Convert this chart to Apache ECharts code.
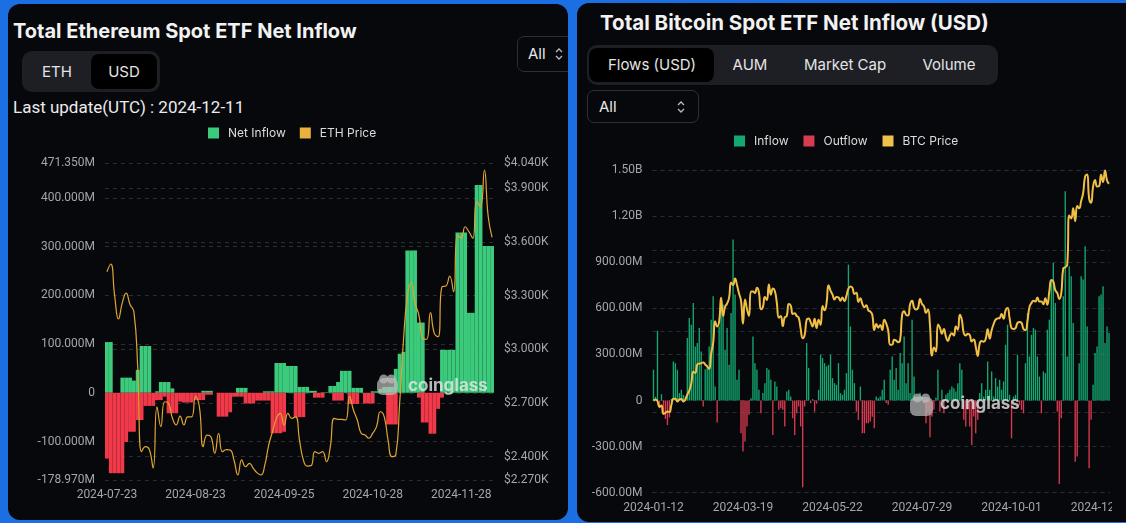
<!DOCTYPE html>
<html lang="en">
<head>
<meta charset="UTF-8">
<title>Spot ETF Net Inflow</title>
<script src="https://cdn.jsdelivr.net/npm/echarts@6/dist/echarts.min.js"></script>
<style>
  html, body {margin:0; padding:0;}
  body {width:1126px; height:523px; background:#1b6fe2; position:relative; overflow:hidden; font-family:Inter, 'Noto Sans', sans-serif; color:#f2f2f2;}
  .panel {position:absolute; background:#07080b; border-radius:12px; overflow:hidden;}
  .eth-panel {left:8px; top:4px; width:560px; height:516px;}
  .btc-panel {left:577px; top:3px; width:580px; height:519px;}
  .title {position:absolute; font-weight:700; font-size:20px; line-height:24px; white-space:nowrap;}
  .pill {position:absolute; background:#1d1f24; border-radius:10px;}
  .pill .sel {position:absolute; background:#000; border-radius:8px;}
  .pill span {position:absolute; top:0; font-size:15px; color:#e4e4e4; transform:translateX(-50%); white-space:nowrap;}
  .sel-box {position:absolute; border:1px solid #2c2f36; border-radius:7px; box-sizing:border-box; font-size:15px; color:#e8e8e8;}
  .sel-box svg {position:absolute; top:50%; margin-top:-7px;}
  .upd {position:absolute; font-family:Roboto, sans-serif; font-size:17px; line-height:20px; color:#ececec; white-space:nowrap;}
  .chart {position:absolute; top:0; height:523px;}
</style>
</head>
<body>
<div class="panel eth-panel">
  <div class="title" style="left:5px; top:15px;">Total Ethereum Spot ETF Net Inflow</div>
  <div class="pill" style="left:14px; top:47px; width:138px; height:41px;">
    <div class="sel" style="left:69px; top:3px; width:66px; height:35px;"></div>
    <span style="left:35px; line-height:41px;">ETH</span>
    <span style="left:102px; line-height:41px;">USD</span>
  </div>
  <div class="upd" style="left:5px; top:93px;">Last update(UTC) : 2024-12-11</div>
  <div class="sel-box" style="left:509px; top:32px; width:70px; height:36px; line-height:34px; padding-left:10px;">All
    <svg style="left:36px;" width="10" height="14" viewBox="0 0 10 14"><path d="M2 5 L5 2 L8 5 M2 9 L5 12 L8 9" stroke="#bbb" stroke-width="1.3" fill="none"/></svg>
  </div>
</div>
<div class="panel btc-panel">
  <div class="title" style="left:23px; top:8px; font-size:20.5px;">Total Bitcoin Spot ETF Net Inflow (USD)</div>
  <div class="pill" style="left:10px; top:42px; width:411px; height:40px;">
    <div class="sel" style="left:2px; top:3px; width:125px; height:34px;"></div>
    <span style="left:65px; line-height:40px;">Flows (USD)</span>
    <span style="left:163px; line-height:40px;">AUM</span>
    <span style="left:258px; line-height:40px;">Market Cap</span>
    <span style="left:362px; line-height:40px;">Volume</span>
  </div>
  <div class="sel-box" style="left:10px; top:87px; width:112px; height:33px; line-height:31px; padding-left:11px;">All
    <svg style="left:88px;" width="10" height="14" viewBox="0 0 10 14"><path d="M2 5 L5 2 L8 5 M2 9 L5 12 L8 9" stroke="#bbb" stroke-width="1.3" fill="none"/></svg>
  </div>
</div>
<div id="eth" class="chart" style="left:8px; width:560px;"></div>
<div id="btc" class="chart" style="left:577px; width:535px;"></div>
<script>
// ---- ETH (USD millions, daily, weekdays 2024-07-23 .. 2024-12-10)
const ethInflowPos = [104,104,0,0,31,31,31,25,47,96,
  96,96,0,3,22,22,22,9,0,0,
  0,0,0,0,0,4,4,4,0,0,
  0,0,0,0,10,10,10,0,0,0,
  0,3,3,3,61,61,61,55,55,55,
  12,12,12,4,4,0,1,1,14,14,
  22,45,45,45,10,10,10,0,0,3,
  3,8,12,12,12,49,80,84,292,292,
  292,144,144,0,0,0,0,88,88,88,
  88,329,329,329,164,164,426,426,301,301,301];
const ethInflowNeg = [-135,-165,-165,-165,-165,-101,-80,-80,-56,-56,
  -27,-27,-27,-15,-15,-8,-42,-42,-42,-18,
  -20,-20,-20,-15,-15,-15,-4,-4,0,-49,
  -49,-49,-40,-8,-8,-8,-22,-22,-22,-16,
  -16,-16,-16,-83,-83,-83,-80,0,0,-50,
  -50,-50,0,0,-10,-10,-10,0,0,-16,
  -16,-16,0,-23,-23,-23,0,-22,-22,-22,
  0,0,0,-65,-65,-65,0,0,0,0,
  0,-10,-61,-61,-84,-84,-33,-10,0,0,
  0,0,0,0,0,0,0,0,0,0,0];
const ethPrice = [3433,3476,3300,3169,3260,3313,3250,3210,2900,2428,
  2456,2440,2337,2679,2568,2707,2698,2616,2577,2627,
  2577,2623,2623,2735,2679,2456,2521,2512,2419,2531,
  2428,2440,2437,2380,2298,2382,2344,2363,2335,2310,
  2298,2354,2465,2540,2614,2642,2577,2642,2614,2623,
  2493,2382,2348,2350,2428,2419,2428,2372,2456,2614,
  2609,2609,2605,2735,2661,2605,2531,2521,2503,2530,
  2568,2651,2623,2493,2400,2410,2698,3052,3294,3372,
  3257,3191,3061,3056,3204,3089,3070,3349,3353,3409,
  3321,3638,3620,3684,3656,3620,3824,3796,4001,3740,3625];
const ethLeftTicks = [-178.97, 471.35];
const ethRightTicks = [2270, 4040];

// ---- BTC (USD millions / price in $K, US trading days 2024-01-12 .. 2024-12-10)
const btcFlow = [200,25,454,-50,41,-83,-120,-159,-110,10,
  254,243,200,48,70,37,26,406,537,493,
  635,352,374,472,319,-39,204,226,352,526,
  678,91,-143,482,667,624,330,472,232,569,
  1047,689,135,200,-213,-332,-267,-169,-93,15,
  417,243,200,70,-83,48,113,211,200,135,
  -224,124,91,-61,-50,-61,-169,59,70,26,
  -115,-224,-83,-39,-169,-565,-39,374,211,-17,
  9,-72,-20,70,298,276,243,222,232,298,
  146,113,102,243,48,37,70,178,884,482,
  200,113,-72,-126,91,-213,-213,-148,-148,-137,
  -105,-180,26,15,26,70,135,-17,-28,200,
  287,135,211,70,309,243,417,113,243,48,
  526,156,26,30,50,25,-20,-148,-80,-239,
  -104,-61,20,200,-72,70,-83,37,48,70,
  91,80,59,113,243,200,-126,-169,-61,-169,
  -289,-104,-213,-126,48,113,26,70,254,70,
  189,26,146,91,135,70,124,363,493,37,
  -246,26,37,298,-28,-61,-83,243,569,287,
  428,472,461,287,156,-83,189,178,461,526,
  787,895,635,-72,-543,-115,678,1362,287,873,
  808,504,-398,-365,243,808,787,1004,482,-441,
  -126,102,309,352,678,689,743,374,482,439];
const btcPrice = [42.8,43.1,42.7,41.3,41.6,39.5,39.8,40.1,40.0,41.8,43.3,43.3,42.6,
  43.1,43.2,42.6,43.1,44.3,45.3,47.1,50.0,49.7,51.8,52.0,52.1,52.3,51.8,51.3,50.7,54.5,57.1,62.5,61.2,
  62.4,68.3,63.8,66.1,66.9,68.3,72.1,71.5,73.1,71.4,69.4,67.6,61.9,67.9,65.5,63.8,69.9,69.9,69.5,70.8,
  69.7,65.5,66.0,68.5,67.8,71.6,69.1,70.6,70.0,67.1,63.4,63.8,61.3,63.5,63.8,66.8,66.4,64.3,64.5,63.8,63.4,60.6,
  58.3,59.1,62.9,63.2,62.3,61.2,63.1,60.8,62.9,61.6,66.3,65.2,67.0,71.4,70.1,69.1,67.9,68.5,68.4,67.6,68.4,67.5,
  68.8,70.6,71.1,70.8,69.3,69.6,67.3,68.2,66.8,66.0,66.5,65.2,64.9,64.1,60.3,61.8,60.9,61.6,60.3,
  62.9,62.0,60.2,56.7,56.7,57.9,57.7,57.3,57.9,64.1,65.0,64.1,63.9,66.7,67.6,65.9,65.4,65.8,68.0,66.8,66.2,64.6,
  65.4,61.5,54.0,56.0,55.0,61.7,60.9,59.4,60.6,58.7,57.6,58.9,59.5,59.0,61.2,60.4,64.1,62.9,59.5,59.0,59.4,59.1,
  57.5,58.0,56.2,53.9,57.0,57.6,57.4,58.1,60.5,58.2,60.3,61.8,62.9,63.2,63.3,64.3,63.1,65.2,65.8,63.3,
  60.8,60.6,60.8,62.1,62.3,62.1,60.6,60.3,62.5,66.0,67.0,67.6,67.4,68.4,67.4,67.4,66.7,68.2,66.6,69.9,72.7,72.3,70.2,
  69.5,68.0,69.4,75.6,75.9,76.5,88.7,88.0,90.5,87.3,91.1,90.5,92.3,94.3,98.4,98.9,93.0,91.9,95.9,97.5,
  95.9,96.0,98.8,97.0,99.9,97.4,96.6];
const btcHolidays = ['2024-01-15','2024-02-19','2024-03-29','2024-05-27','2024-06-19','2024-07-04','2024-09-02','2024-11-28'];

function tradingDays(start, end, skip) {
    const out = [];
    const d = new Date(start + 'T00:00:00Z');
    const last = new Date(end + 'T00:00:00Z');
    while (d <= last) {
        const s = d.toISOString().slice(0, 10);
        const wd = d.getUTCDay();
        if (wd !== 0 && wd !== 6 && skip.indexOf(s) < 0) out.push(s);
        d.setUTCDate(d.getUTCDate() + 1);
    }
    return out;
}
const ethDates = tradingDays('2024-07-23', '2024-12-10', []);
const btcDates = tradingDays('2024-01-12', '2024-12-10', btcHolidays);

const labelColor = '#a2a6ad';
const gridLine = {show: true, lineStyle: {color: '#2a2d33', type: [4, 4], width: 1}};
const axisFont = {color: labelColor, fontSize: 12, fontFamily: 'Roboto'};

// rough coinglass mark for the watermark
function logo(x, y, s) {
    const fill = 'rgba(190,190,190,0.7)';
    return {
        type: 'group', x: x, y: y, silent: true, z: 100,
        children: [
            {type: 'rect', z: 100, shape: {x: 0, y: 4, width: s, height: s - 4, r: 6}, style: {fill: fill}},
            {type: 'circle', z: 100, shape: {cx: s * 0.32, cy: 5, r: 4.5}, style: {fill: fill}},
            {type: 'circle', z: 100, shape: {cx: s * 0.68, cy: 5, r: 4.5}, style: {fill: fill}}
        ]
    };
}

// ETH chart
let ethChart = echarts.init(document.getElementById('eth'));
ethChart.setOption({
    animation: false,
    legend: {
        data: ['Net Inflow', 'ETH Price'], left: 200, top: 127, padding: 0, icon: 'rect',
        itemWidth: 11, itemHeight: 11, itemGap: 14,
        textStyle: {color: '#dcdcdc', fontSize: 12, fontFamily: 'Inter', padding: [0, 0, 0, 4]}
    },
    grid: {left: 97, right: 74, top: 163, bottom: 43, outerBoundsMode: 'none'},
    xAxis: {
        type: 'category', data: ethDates, boundaryGap: true,
        axisLine: {show: false}, axisTick: {show: false},
        axisLabel: Object.assign({interval: 22, margin: 9}, axisFont)
    },
    yAxis: [{
        type: 'value', min: ethLeftTicks[0], max: ethLeftTicks[1], position: 'left',
        axisLine: {show: false}, axisTick: {show: false}, splitLine: gridLine,
        axisLabel: Object.assign({margin: 10, showMinLabel: true, showMaxLabel: true,
            formatter: v => v === 0 ? '0' : v.toFixed(3) + 'M'}, axisFont)
    }, {
        type: 'value', min: ethRightTicks[0], max: ethRightTicks[1], position: 'right',
        axisLine: {show: false}, axisTick: {show: false}, splitLine: gridLine,
        axisLabel: Object.assign({margin: 10, showMinLabel: true, showMaxLabel: true,
            formatter: v => '$' + (v / 1000).toFixed(3) + 'K'}, axisFont)
    }],
    series: [{
        name: 'Net Inflow', type: 'bar', data: ethInflowPos, barGap: '-100%', barCategoryGap: '0%',
        itemStyle: {color: '#3ccb7c'}
    }, {
        name: 'Net Outflow', type: 'bar', data: ethInflowNeg, barGap: '-100%', barCategoryGap: '0%',
        itemStyle: {color: '#f2394a'}
    }, {
        name: 'ETH Price', type: 'line', yAxisIndex: 1, data: ethPrice, smooth: true, showSymbol: false,
        itemStyle: {color: '#e9b23f'}, lineStyle: {color: '#e0a535', width: 1.2}
    }],
    graphic: [
        logo(369, 374, 21),
        {type: 'text', left: 400, top: 377, silent: true, z: 100,
         style: {text: 'coinglass', fill: 'rgba(230,230,230,0.8)', fontSize: 17, fontWeight: 'bold', fontFamily: 'Inter'}}
    ]
});

// BTC chart
let btcChart = echarts.init(document.getElementById('btc'));
btcChart.setOption({
    animation: false,
    legend: {
        data: ['Inflow', 'Outflow', 'BTC Price'], left: 157, top: 135, padding: 0, icon: 'rect',
        itemWidth: 11, itemHeight: 11, itemGap: 15,
        textStyle: {color: '#dcdcdc', fontSize: 12, fontFamily: 'Inter', padding: [0, 0, 0, 4]}
    },
    grid: {left: 75.5, right: 2, top: 170, bottom: 30.3, outerBoundsMode: 'none'},
    xAxis: {
        type: 'category', data: btcDates, boundaryGap: true,
        axisLine: {show: false}, axisTick: {show: false},
        axisLabel: Object.assign({interval: 44, margin: 9}, axisFont)
    },
    yAxis: [{
        type: 'value', min: -600, max: 1500, interval: 300, position: 'left',
        axisLine: {show: false}, axisTick: {show: false}, splitLine: gridLine,
        axisLabel: Object.assign({margin: 10,
            formatter: v => v === 0 ? '0' : (Math.abs(v) >= 1000 ? (v / 1000).toFixed(2) + 'B' : v.toFixed(2) + 'M')}, axisFont)
    }, {
        type: 'value', min: 20, max: 100, interval: 20, position: 'right',
        axisLine: {show: false}, axisTick: {show: false}, splitLine: gridLine,
        axisLabel: {show: false}
    }],
    series: [{
        name: 'Inflow', type: 'bar', barGap: '-100%', barWidth: '68%',
        data: btcFlow.map(v => v > 0 ? v : '-'),
        itemStyle: {color: '#13a871'}
    }, {
        name: 'Outflow', type: 'bar', barGap: '-100%', barWidth: '68%',
        data: btcFlow.map(v => v < 0 ? v : '-'),
        itemStyle: {color: '#d83a50'}
    }, {
        name: 'BTC Price', type: 'line', yAxisIndex: 1, data: btcPrice, smooth: true, showSymbol: false,
        itemStyle: {color: '#eec04c'}, lineStyle: {color: '#f2bf45', width: 2}
    }],
    graphic: [
        logo(333, 393, 23),
        {type: 'text', left: 363, top: 395, silent: true, z: 100,
         style: {text: 'coinglass', fill: 'rgba(230,230,230,0.8)', fontSize: 17, fontWeight: 'bold', fontFamily: 'Inter'}}
    ]
});
</script>
</body>
</html>
